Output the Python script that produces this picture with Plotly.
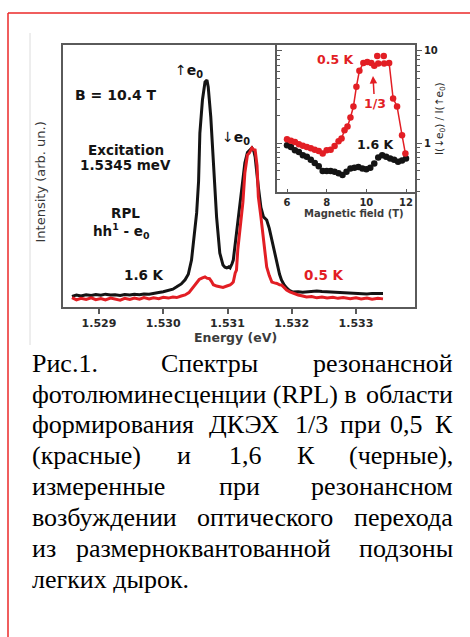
import plotly.graph_objects as go

W, H = 470, 637

# ---------------- data ----------------
energy_16K = [1.52858, 1.52865, 1.52872, 1.52880, 1.52888, 1.52895, 1.52903, 1.52910, 1.52918, 1.52925,
              1.52933, 1.52940, 1.52948, 1.52955, 1.52963, 1.52970, 1.52978, 1.52985, 1.52993, 1.53000,
              1.53008, 1.53015, 1.53021, 1.53028, 1.53034, 1.53039, 1.53044, 1.53048, 1.53052, 1.53055,
              1.53057, 1.53061, 1.53065, 1.53068, 1.53070, 1.53074, 1.53078, 1.53083, 1.53088, 1.53093,
              1.53096, 1.53099, 1.53102, 1.53104, 1.53107, 1.53109, 1.53114, 1.53118, 1.53121, 1.53127,
              1.53131, 1.53134, 1.53138, 1.53141, 1.53143, 1.53148, 1.53152, 1.53156, 1.53161, 1.53165,
              1.53169, 1.53173, 1.53177, 1.53181, 1.53184, 1.53188, 1.53192, 1.53197, 1.53202, 1.53210,
              1.53217, 1.53223, 1.53231, 1.53239, 1.53247, 1.53255, 1.53264, 1.53272, 1.53280, 1.53291,
              1.53300, 1.53308, 1.53317, 1.53325, 1.53334, 1.53342]
intensity_16K = [0.040, 0.046, 0.042, 0.047, 0.044, 0.048, 0.045, 0.049, 0.046, 0.047,
                 0.044, 0.048, 0.046, 0.049, 0.047, 0.050, 0.049, 0.053, 0.055, 0.058,
                 0.063, 0.068, 0.077, 0.088, 0.104, 0.125, 0.179, 0.260, 0.359, 0.480,
                 0.664, 0.790, 0.859, 0.866, 0.840, 0.725, 0.534, 0.344, 0.206, 0.160,
                 0.152, 0.149, 0.153, 0.149, 0.165, 0.179, 0.282, 0.370, 0.435, 0.550,
                 0.590, 0.599, 0.607, 0.595, 0.573, 0.458, 0.380, 0.344, 0.332, 0.300,
                 0.256, 0.210, 0.168, 0.125, 0.103, 0.085, 0.073, 0.062, 0.057, 0.058,
                 0.056, 0.057, 0.060, 0.061, 0.059, 0.058, 0.055, 0.056, 0.053, 0.054,
                 0.051, 0.052, 0.050, 0.052, 0.051, 0.052]

energy_05K = [1.52858, 1.52865, 1.52872, 1.52880, 1.52888, 1.52895, 1.52903, 1.52910, 1.52918, 1.52925,
              1.52933, 1.52940, 1.52948, 1.52955, 1.52963, 1.52970, 1.52978, 1.52985, 1.52993, 1.53000,
              1.53008, 1.53015, 1.53021, 1.53028, 1.53034, 1.53040, 1.53045, 1.53049, 1.53052, 1.53056,
              1.53061, 1.53065, 1.53068, 1.53072, 1.53075, 1.53078, 1.53083, 1.53088, 1.53093, 1.53099,
              1.53104, 1.53107, 1.53109, 1.53112, 1.53114, 1.53116, 1.53119, 1.53121, 1.53124, 1.53127,
              1.53131, 1.53134, 1.53138, 1.53141, 1.53143, 1.53146, 1.53148, 1.53152, 1.53156, 1.53161,
              1.53165, 1.53169, 1.53173, 1.53177, 1.53181, 1.53184, 1.53188, 1.53192, 1.53197, 1.53202,
              1.53210, 1.53217, 1.53223, 1.53231, 1.53239, 1.53247, 1.53255, 1.53264, 1.53272, 1.53280,
              1.53291, 1.53300, 1.53308, 1.53317, 1.53325, 1.53334, 1.53342]
intensity_05K = [0.036, 0.027, 0.033, 0.029, 0.035, 0.028, 0.032, 0.027, 0.034, 0.030,
                 0.026, 0.033, 0.029, 0.034, 0.030, 0.036, 0.031, 0.035, 0.032, 0.037,
                 0.034, 0.038, 0.036, 0.042, 0.046, 0.055, 0.070, 0.085, 0.095, 0.105,
                 0.111, 0.115, 0.110, 0.108, 0.098, 0.085, 0.080, 0.077, 0.075, 0.080,
                 0.084, 0.090, 0.095, 0.130, 0.141, 0.218, 0.290, 0.332, 0.400, 0.511,
                 0.580, 0.588, 0.607, 0.600, 0.599, 0.540, 0.420, 0.344, 0.256, 0.153,
                 0.120, 0.095, 0.092, 0.090, 0.085, 0.084, 0.075, 0.065, 0.058, 0.053,
                 0.046, 0.042, 0.038, 0.040, 0.035, 0.038, 0.034, 0.037, 0.033, 0.036,
                 0.032, 0.035, 0.031, 0.034, 0.030, 0.033, 0.031]

field_05K = [6.0, 6.2, 6.4, 6.6, 6.8, 7.0, 7.2, 7.4, 7.6, 7.8, 8.0, 8.2, 8.4, 8.6, 8.75, 8.9,
             9.05, 9.2, 9.35, 9.5, 9.65, 9.85, 10.05, 10.25, 10.4, 10.6, 10.9, 11.15, 11.35, 11.55,
             11.8, 11.97]
ratio_05K = [1.10, 1.06, 1.03, 0.97, 0.94, 0.91, 0.88, 0.85, 0.82, 0.77, 0.84, 0.85, 0.93, 1.05, 1.12, 1.38,
             1.52, 1.9, 2.5, 4.1, 6.1, 7.4, 7.6, 7.4, 6.9, 7.3, 7.3, 7.4, 3.06, 2.5,
             1.22, 0.77]
field_05K_extra = [10.55, 10.88]
ratio_05K_extra = [8.8, 8.8]

field_16K = [6.0, 6.2, 6.4, 6.6, 6.8, 7.0, 7.2, 7.4, 7.6, 7.8, 8.0, 8.2, 8.4, 8.6, 8.8, 9.0,
             9.2, 9.4, 9.6, 9.8, 10.0, 10.2, 10.4, 10.6, 10.8, 11.0, 11.2, 11.4, 11.6, 11.8, 12.0]
ratio_16K = [0.95, 0.91, 0.84, 0.80, 0.74, 0.71, 0.66, 0.61, 0.56, 0.50, 0.50, 0.50, 0.49, 0.47, 0.45, 0.49,
             0.53, 0.54, 0.55, 0.53, 0.52, 0.54, 0.60, 0.70, 0.74, 0.71, 0.68, 0.66, 0.63, 0.65, 0.68]

energy_ticks = [1.529, 1.530, 1.531, 1.532, 1.533]
field_ticks = [6, 8, 10, 12]
ratio_major = [1, 10]
ratio_minor = [0.3, 0.4, 0.5, 0.6, 0.7, 0.8, 0.9, 2, 3, 4, 5, 6, 7, 8, 9]

caption_lines = [
    [("Рис.1.", 30, "left"), ("Спектры", 159, "left"), ("резонансной", 455, "right")],
    [("фотолюминесценции (RPL) в", 30, "left"), ("области", 455, "right")],
    [("формирования", 30, "left"), ("ДКЭХ", 207, "left"), ("1/3", 293, "left"),
     ("при", 338, "left"), ("0,5", 388, "left"), ("К", 455, "right")],
    [("(красные)", 30, "left"), ("и", 175, "left"), ("1,6", 227, "left"),
     ("К", 295, "left"), ("(черные),", 455, "right")],
    [("измеренные", 30, "left"), ("при", 217, "left"), ("резонансном", 455, "right")],
    [("возбуждении", 30, "left"), ("оптического", 195, "left"), ("перехода", 455, "right")],
    [("из", 30, "left"), ("размерноквантованной", 74, "left"), ("подзоны", 455, "right")],
    [("легких дырок.", 30, "left")],
]
caption_y = [363, 394, 424.5, 455.5, 486, 517, 548, 579]

RED = "rgb(226,30,36)"
BLACK = "rgb(20,20,20)"
FRAME = "rgb(90,90,90)"
SERIF = "Liberation Serif, Tinos, Times New Roman, DejaVu Serif, serif"


def px(x):
    return x / W


def py(y):
    return 1 - y / H


fig = go.Figure()

fig.add_trace(go.Scatter(x=energy_16K, y=intensity_16K, mode="lines",
                         line=dict(color=BLACK, width=3), xaxis="x", yaxis="y"))
fig.add_trace(go.Scatter(x=energy_05K, y=intensity_05K, mode="lines",
                         line=dict(color=RED, width=3), xaxis="x", yaxis="y"))

fig.add_trace(go.Scatter(x=field_16K, y=ratio_16K, mode="markers",
                         marker=dict(color=BLACK, size=6.5), xaxis="x2", yaxis="y2"))
fig.add_trace(go.Scatter(x=field_05K, y=ratio_05K, mode="lines+markers",
                         line=dict(color=RED, width=1.5),
                         marker=dict(color=RED, size=6.5), xaxis="x2", yaxis="y2"))
fig.add_trace(go.Scatter(x=field_05K_extra, y=ratio_05K_extra, mode="markers",
                         marker=dict(color=RED, size=6.5), xaxis="x2", yaxis="y2"))
fig.add_trace(go.Scatter(x=[None], y=[None], mode="markers", xaxis="x2", yaxis="y3",
                         showlegend=False))

lab_font = dict(family="DejaVu Sans", size=11, color="rgb(40,40,40)", weight="bold")

fig.update_layout(
    width=W, height=H,
    margin=dict(l=0, r=0, t=0, b=0),
    paper_bgcolor="white", plot_bgcolor="white",
    showlegend=False,
    xaxis=dict(domain=[px(63), px(415)], range=[1.52844, 1.533918],
               tickvals=energy_ticks,
               tickformat=".3f", ticks="outside", ticklen=5, tickwidth=1.5, tickcolor=FRAME,
               showline=True, linecolor=FRAME, linewidth=2, mirror=True,
               showgrid=False, zeroline=False, tickfont=lab_font, anchor="y"),
    yaxis=dict(domain=[py(307), py(45)], range=[0, 1], showticklabels=False, ticks="",
               showline=True, linecolor=FRAME, linewidth=2, mirror=True,
               showgrid=False, zeroline=False, anchor="x"),
    xaxis2=dict(domain=[px(277), px(415)], range=[5.496, 12.454], tickvals=field_ticks,
                ticks="inside", ticklen=3, tickwidth=1.2, tickcolor=FRAME,
                showline=True, linecolor=FRAME, linewidth=1.8, mirror=True,
                showgrid=False, zeroline=False, anchor="y2",
                tickfont=dict(family="DejaVu Sans", size=10, color="rgb(40,40,40)", weight="bold")),
    yaxis2=dict(domain=[py(192), py(45)], type="log", range=[-0.53, 1.065], side="right",
                tickvals=ratio_major, ticktext=["1", "10"],
                ticks="outside", ticklen=5, tickwidth=1.2, tickcolor=FRAME,
                minor=dict(tickvals=ratio_minor, ticks="outside", ticklen=3, tickwidth=1, tickcolor=FRAME),
                showline=True, linecolor=FRAME, linewidth=1.8, mirror=True,
                showgrid=False, zeroline=False, anchor="x2",
                tickfont=dict(family="DejaVu Sans", size=10, color="rgb(30,30,30)", weight="bold")),
    yaxis3=dict(overlaying="y2", type="log", range=[-0.53, 1.065], side="left", anchor="x2",
                tickvals=ratio_major, showticklabels=False,
                ticks="inside", ticklen=5, tickwidth=1.2, tickcolor=FRAME,
                minor=dict(tickvals=ratio_minor, ticks="inside", ticklen=3, tickwidth=1, tickcolor=FRAME),
                showline=False, showgrid=False, zeroline=False),
)

annotations = []


def ann(text, x, y, size, color=BLACK, bold=True, xanchor="center", angle=0, family="DejaVu Sans"):
    annotations.append(dict(text=text, x=px(x), y=py(y), xref="paper", yref="paper",
                            showarrow=False, xanchor=xanchor, yanchor="middle", textangle=angle,
                            font=dict(family=family, size=size, color=color,
                                      weight="bold" if bold else "normal")))


ann("B = 10.4 T", 115.5, 94.5, 14)
ann("Excitation", 125.5, 150, 13.5)
ann("1.5345 meV", 125, 165, 13.5)
ann("RPL", 125, 213, 13.5)
ann("hh<sup>1</sup> - e<sub>0</sub>", 121.5, 230.5, 13.5)
ann("1.6 K", 144, 275, 13.5)
ann("0.5 K", 324, 275, 13.5, color=RED)
ann("<span style='font-weight:normal'>↑</span>e<sub>0</sub>", 189, 71, 14)
ann("<span style='font-weight:normal'>↓</span>e<sub>0</sub>", 236, 138, 14)
ann("0.5 K", 335.5, 59.5, 12.5, color=RED)
ann("1.6 K", 375.5, 144, 12.5)
ann("Energy (eV)", 236, 337.5, 12.5, color="rgb(60,60,60)")
ann("Magnetic field (T)", 353.5, 213, 10, color="rgb(60,60,60)")
ann("Intensity (arb. un.)", 40, 182.5, 13, color="rgb(55,55,55)", bold=False, angle=-90)
ann("I(↓e<sub>0</sub>) / I(↑e<sub>0</sub>)", 440, 119, 10.5, color="rgb(40,40,40)", bold=False, angle=-90)

annotations.append(dict(text="1/3", x=px(373), y=py(76), xref="paper", yref="paper",
                        showarrow=True, ax=1.5, ay=27, arrowhead=2, arrowsize=1, arrowwidth=1.5,
                        arrowcolor=RED, standoff=0,
                        font=dict(family="DejaVu Sans", size=12.5, color=RED, weight="bold")))

for words, yc in zip(caption_lines, caption_y):
    for word, x, anchor in words:
        ann(word, x, yc, 26, color="black", bold=False, xanchor=anchor, family=SERIF)

fig.update_layout(annotations=annotations)

fig.update_layout(shapes=[
    dict(type="line", xref="paper", yref="paper", x0=px(8), x1=1.0, y0=py(13), y1=py(13),
         line=dict(color="rgb(235,40,40)", width=1.5)),
    dict(type="line", xref="paper", yref="paper", x0=px(8), x1=px(8), y0=py(13), y1=0,
         line=dict(color="rgb(235,40,40)", width=1.5)),
    dict(type="line", xref="paper", yref="paper", x0=px(30), x1=px(30), y0=py(33), y1=py(345),
         line=dict(color="rgb(220,220,220)", width=1)),
])

fig.write_html("out.html")
